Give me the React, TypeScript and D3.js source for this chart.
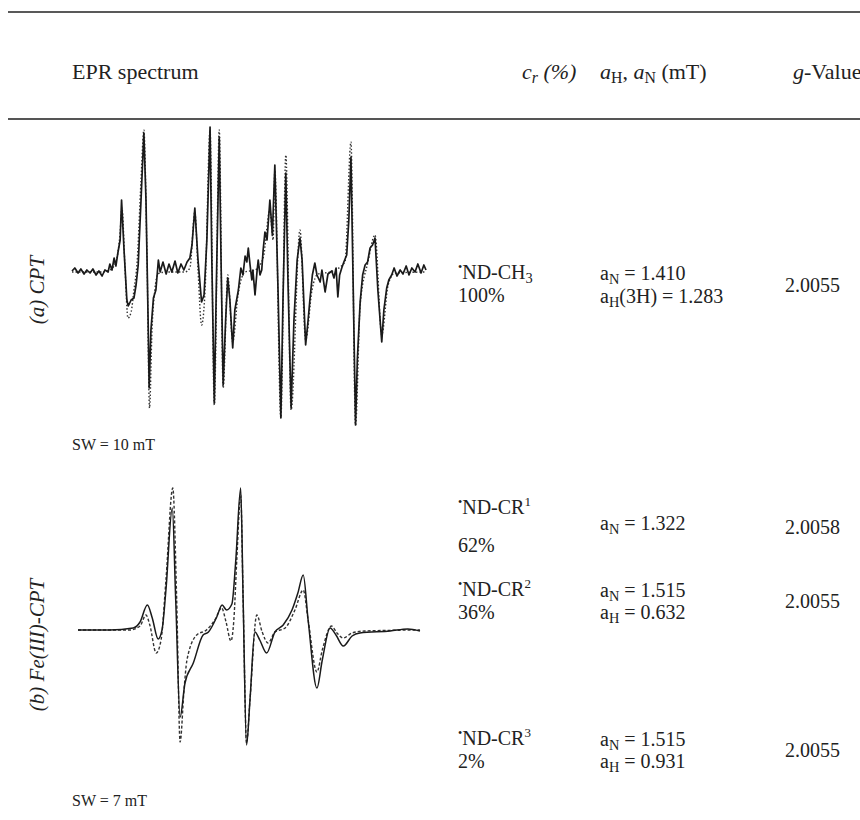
import React from "react";
import * as d3 from "d3";

// spectrum (a) CPT, SW = 10 mT  -> [field mT, signal a.u.]
const expA: [number, number][] = [
  [0.0, 1], [0.08, 4], [0.17, -1], [0.25, 3], [0.34, -2], [0.42, 2], [0.51, -1], [0.59, 3],
  [0.68, -3], [0.76, 1], [0.85, -4], [0.93, 2], [1.02, 0], [1.07, 8], [1.13, 2], [1.19, 14],
  [1.24, 6], [1.3, 20], [1.36, 32], [1.4, 72], [1.47, 22], [1.55, -28], [1.59, -34], [1.67, -28],
  [1.75, -26], [1.81, -13], [1.87, 7], [1.95, 72], [2.03, 139], [2.09, 72], [2.15, -48], [2.18, -116],
  [2.23, -58], [2.3, -26], [2.37, -18], [2.44, 12], [2.49, 0], [2.57, 10], [2.66, -2], [2.74, 8],
  [2.82, 0], [2.91, 11], [2.99, -1], [3.08, 8], [3.16, 2], [3.25, 10], [3.33, 14], [3.39, 27],
  [3.47, 64], [3.56, 12], [3.66, -30], [3.73, -23], [3.81, 32], [3.9, 145], [3.95, 12], [4.02, -131],
  [4.08, -8], [4.16, 135], [4.21, 12], [4.27, -113], [4.34, -48], [4.4, -6], [4.46, -28], [4.54, -76],
  [4.6, -38], [4.7, -18], [4.77, 4], [4.83, -3], [4.89, 16], [4.94, 10], [4.98, 24], [5.03, 7],
  [5.08, -8], [5.11, 2], [5.17, -23], [5.23, 2], [5.26, 12], [5.31, -3], [5.36, 2], [5.4, 22],
  [5.45, 40], [5.51, 32], [5.59, 72], [5.66, 37], [5.73, 107], [5.82, -18], [5.9, -146], [5.96, -28],
  [6.04, 99], [6.1, -8], [6.19, -136], [6.27, -48], [6.36, 12], [6.44, 34], [6.5, 12], [6.6, -73],
  [6.67, -48], [6.72, -28], [6.79, -3], [6.86, 9], [6.92, -3], [7.01, -10], [7.06, 2], [7.15, -20],
  [7.23, -2], [7.34, 1], [7.4, -6], [7.46, 4], [7.51, -25], [7.56, -3], [7.62, 4], [7.68, 10],
  [7.76, 17], [7.82, 52], [7.88, 115], [7.94, -8], [8.01, -153], [8.06, -88], [8.14, -30], [8.21, -3],
  [8.28, 7], [8.35, 10], [8.42, 24], [8.49, 27], [8.56, 34], [8.64, -18], [8.75, -70], [8.81, -38],
  [8.89, -16], [8.95, -8], [9.03, -3], [9.1, 4], [9.18, -4], [9.27, 2], [9.35, -2], [9.44, 6],
  [9.52, -3], [9.6, 4], [9.69, 0], [9.77, 8], [9.86, -1], [9.94, 7], [10.0, 2],
];

const simA: [number, number][] = [
  [0.0, 0], [0.79, 0], [1.07, 2], [1.24, 10], [1.36, 40], [1.41, 64], [1.5, 2], [1.58, -46],
  [1.67, -40], [1.75, -18], [1.84, 10], [1.95, 92], [2.03, 142], [2.12, 12], [2.19, -136], [2.26, -58],
  [2.34, -18], [2.43, -2], [2.63, 0], [3.19, 0], [3.33, 4], [3.47, 60], [3.56, 2], [3.66, -53],
  [3.76, -18], [3.9, 142], [4.02, -133], [4.16, 142], [4.27, -116], [4.4, -3], [4.54, -70], [4.69, -23],
  [4.89, 0], [5.17, 2], [5.4, 14], [5.59, 62], [5.68, 32], [5.73, 102], [5.9, -146], [6.04, 117],
  [6.19, -138], [6.44, 42], [6.6, -68], [6.78, -18], [6.95, -2], [7.29, 0], [7.71, 10], [7.88, 130],
  [8.01, -153], [8.14, -33], [8.36, 10], [8.56, 37], [8.75, -63], [8.93, -13], [9.12, -1], [10.0, 0],
];

// spectrum (b) Fe(III)-CPT, SW = 7 mT
const expB: [number, number][] = [
  [0, 0], [0.65, 0], [1.13, 2], [1.27, 8], [1.42, 25], [1.52, 12], [1.64, -9], [1.72, 0],
  [1.8, 40], [1.93, 122], [2.0, 30], [2.09, -87], [2.19, -53], [2.36, -33], [2.56, -5], [2.67, -2],
  [2.84, 13], [2.95, 25], [3.04, 20], [3.15, 26], [3.23, 70], [3.33, 142], [3.38, 30], [3.45, -115],
  [3.52, -70], [3.62, -2], [3.72, -10], [3.86, -23], [4.03, -2], [4.2, 5], [4.38, 20], [4.5, 37],
  [4.61, 55], [4.71, 10], [4.89, -58], [5.0, -30], [5.16, 2], [5.28, -5], [5.43, -16], [5.61, -6],
  [5.77, -3], [6.39, -1], [6.75, 1], [7.0, -1],
];

const simB: [number, number][] = [
  [0, 0], [1.06, 0], [1.27, 4], [1.39, 15], [1.47, 5], [1.6, -23], [1.7, -10], [1.8, 50],
  [1.94, 142], [2.02, 30], [2.09, -112], [2.17, -60], [2.23, -30], [2.43, -5], [2.63, 0], [2.8, 10],
  [2.94, 22], [3.03, 8], [3.13, -11], [3.19, 10], [3.25, 70], [3.33, 135], [3.38, 30], [3.45, -113],
  [3.52, -70], [3.66, 15], [3.77, -2], [3.89, -13], [4.03, -2], [4.24, 2], [4.44, 20], [4.61, 40],
  [4.71, 10], [4.89, -42], [5.0, -20], [5.19, 4], [5.3, -3], [5.43, -8], [5.61, -3], [5.87, -1],
  [7.0, 0],
];

const serif = "'Liberation Serif', 'Times New Roman', 'DejaVu Serif', serif";
const fs = 20;

const Sub = ({ t, size = fs }: { t: string; size?: number }) => (
  <tspan fontSize={size * 0.72} dy={4}>{t}</tspan>
);

const Radical = () => (
  <tspan fontSize={fs * 0.6} dy={-8}>•</tspan>
);

const App = () => {
  const xA = d3.scaleLinear().domain([0, 10]).range([72, 426]);
  const yA = d3.scaleLinear().domain([-160, 160]).range([432, 112]);
  const xB = d3.scaleLinear().domain([0, 7]).range([78, 420]);
  const yB = d3.scaleLinear().domain([-160, 160]).range([790, 470]);

  const lineA = d3.line<[number, number]>().x((d) => xA(d[0])).y((d) => yA(d[1]));
  const smoothA = d3
    .line<[number, number]>()
    .x((d) => xA(d[0]))
    .y((d) => yA(d[1]))
    .curve(d3.curveMonotoneX);
  const smoothB = d3
    .line<[number, number]>()
    .x((d) => xB(d[0]))
    .y((d) => yB(d[1]))
    .curve(d3.curveMonotoneX);

  const colND = 458;
  const colA = 600;
  const colG = 785;
  const hs = 22;

  return (
    <svg
      width={860}
      height={820}
      style={{ position: "absolute", left: 0, top: 0, background: "#fff", fontFamily: serif }}
      fontSize={fs}
      fill="#222"
    >
      {/* table rules */}
      <line x1={8} x2={860} y1={12} y2={12} stroke="#222" strokeWidth={1.5} />
      <line x1={8} x2={860} y1={119} y2={119} stroke="#555" strokeWidth={1.8} />

      {/* header */}
      <g fontSize={hs}>
        <text x={72} y={79}>EPR spectrum</text>
        <text x={colA - 78} y={79} fontStyle="italic">
          c<Sub t="r" size={hs} />
          <tspan dy={-4}> (%)</tspan>
        </text>
        <text x={colA} y={79}>
          <tspan fontStyle="italic">a</tspan>
          <Sub t="H" size={hs} />
          <tspan dy={-4}>, </tspan>
          <tspan fontStyle="italic">a</tspan>
          <Sub t="N" size={hs} />
          <tspan dy={-4}> (mT)</tspan>
        </text>
        <text x={colG + 8} y={79}>
          <tspan fontStyle="italic">g</tspan>-Value
        </text>
      </g>

      {/* row (a) */}
      <text transform="translate(44,290) rotate(-90)" textAnchor="middle" fontStyle="italic" fontSize={21}>
        (a) CPT
      </text>
      <path d={smoothA(simA) ?? ""} fill="none" stroke="#333" strokeWidth={1.4} strokeDasharray="1.5,2" />
      <path d={lineA(expA) ?? ""} fill="none" stroke="#1a1a1a" strokeWidth={1.7} strokeLinejoin="round" />
      <text x={72} y={450} fontSize={16}>SW = 10 mT</text>

      <text x={colND} y={279}>
        <Radical />
        <tspan dy={8}>ND-CH</tspan>
        <Sub t="3" />
      </text>
      <text x={colND} y={302}>100%</text>
      <text x={colA} y={280}>a<Sub t="N" /><tspan dy={-4}> = 1.410</tspan></text>
      <text x={colA} y={303}>a<Sub t="H" /><tspan dy={-4}>(3H) = 1.283</tspan></text>
      <text x={colG} y={292}>2.0055</text>

      {/* row (b) */}
      <text transform="translate(44,645) rotate(-90)" textAnchor="middle" fontStyle="italic" fontSize={21}>
        (b) Fe(III)-CPT
      </text>
      <path d={smoothB(simB) ?? ""} fill="none" stroke="#333" strokeWidth={1.4} strokeDasharray="3,2" />
      <path d={smoothB(expB) ?? ""} fill="none" stroke="#1a1a1a" strokeWidth={1.5} />
      <text x={72} y={806} fontSize={16}>SW = 7 mT</text>

      <text x={colND} y={514}>
        <Radical />
        <tspan dy={8}>ND-CR</tspan>
        <tspan fontSize={fs * 0.65} dy={-8}>1</tspan>
      </text>
      <text x={colND} y={552}>62%</text>
      <text x={colA} y={530}>a<Sub t="N" /><tspan dy={-4}> = 1.322</tspan></text>
      <text x={colG} y={534}>2.0058</text>

      <text x={colND} y={596}>
        <Radical />
        <tspan dy={8}>ND-CR</tspan>
        <tspan fontSize={fs * 0.65} dy={-8}>2</tspan>
      </text>
      <text x={colND} y={619}>36%</text>
      <text x={colA} y={597}>a<Sub t="N" /><tspan dy={-4}> = 1.515</tspan></text>
      <text x={colA} y={619}>a<Sub t="H" /><tspan dy={-4}> = 0.632</tspan></text>
      <text x={colG} y={608}>2.0055</text>

      <text x={colND} y={745}>
        <Radical />
        <tspan dy={8}>ND-CR</tspan>
        <tspan fontSize={fs * 0.65} dy={-8}>3</tspan>
      </text>
      <text x={colND} y={768}>2%</text>
      <text x={colA} y={746}>a<Sub t="N" /><tspan dy={-4}> = 1.515</tspan></text>
      <text x={colA} y={768}>a<Sub t="H" /><tspan dy={-4}> = 0.931</tspan></text>
      <text x={colG} y={757}>2.0055</text>
    </svg>
  );
};

export default App;
